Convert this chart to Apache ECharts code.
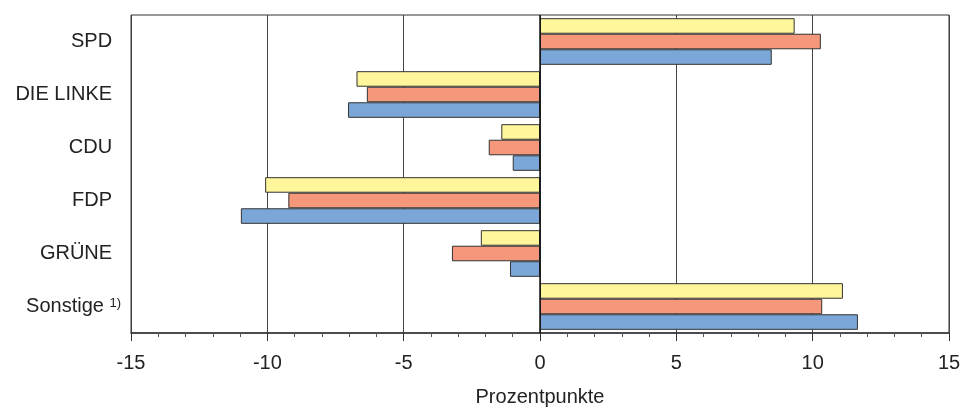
<!DOCTYPE html>
<html>
<head>
<meta charset="utf-8">
<script src="https://cdn.jsdelivr.net/npm/echarts@6/dist/echarts.min.js"></script>
<style>
html,body{margin:0;padding:0;background:#fff;}
#c{width:973px;height:412px;}
</style>
</head>
<body>
<div id="c"></div>
<script>
var categories = ['SPD', 'DIE LINKE', 'CDU', 'FDP', 'GRÜNE', 'Sonstige'];
var seriesYellow = [9.34, -6.73, -1.42, -10.08, -2.17, 11.11];
var seriesOrange = [10.30, -6.35, -1.88, -9.23, -3.23, 10.35];
var seriesBlue = [8.50, -7.04, -1.00, -10.97, -1.10, 11.66];
var xTicks = [-15, -10, -5, 0, 5, 10, 15];
var axisTitle = 'Prozentpunkte';

var chart = echarts.init(document.getElementById('c'));
var font = 'Liberation Sans, Arial, sans-serif';
function mk(name, data, color, withZero) {
  var s = {
    name: name, type: 'bar', data: data, barGap: '0%', barCategoryGap: '12%',
    itemStyle: {color: color, borderColor: '#333', borderWidth: 1},
    silent: true
  };
  if (withZero) {
    s.markLine = {silent: true, symbol: 'none', label: {show: false},
      lineStyle: {color: '#111', width: 1.5, type: 'solid'},
      data: [{xAxis: 0}]};
  }
  return s;
}
chart.setOption({
  animation: false,
  grid: {left: 131, right: 24, top: 15, bottom: 78, show: true, borderColor: '#333', borderWidth: 1},
  xAxis: {
    type: 'value', min: -15, max: 15, interval: 5,
    name: axisTitle, nameLocation: 'middle', nameGap: 54,
    nameTextStyle: {fontFamily: font, fontSize: 20, color: '#222'},
    axisLine: {show: true, onZero: false, lineStyle: {color: '#333', width: 1.5}},
    axisTick: {show: true, length: 8, lineStyle: {color: '#333'}},
    minorTick: {show: true, splitNumber: 5, length: 4, lineStyle: {color: '#555'}},
    axisLabel: {fontFamily: font, fontSize: 20, color: '#222', margin: 20,
      formatter: function (v) { return xTicks.indexOf(v) >= 0 ? String(v) : ''; }},
    splitLine: {show: true, lineStyle: {color: '#444', width: 1}}
  },
  yAxis: {
    type: 'category', data: categories, inverse: true,
    axisLine: {show: false, onZero: false},
    axisTick: {show: false},
    axisLabel: {fontFamily: font, fontSize: 20, color: '#222', margin: 10,
      formatter: function (v) { return v === 'Sonstige' ? v + ' {sup|1)}' : v + '{pad|\u00a0\u00a0}'; },
      rich: {
        pad: {fontFamily: font, fontSize: 16},
        sup: {fontFamily: font, fontSize: 13, color: '#222', padding: [0, 0, 7, 0]}
      }}
  },
  series: [
    mk('a', seriesYellow, '#FFF59A', true),
    mk('b', seriesOrange, '#F4977A', false),
    mk('c', seriesBlue, '#7BA7D8', false)
  ]
});
</script>
</body>
</html>
